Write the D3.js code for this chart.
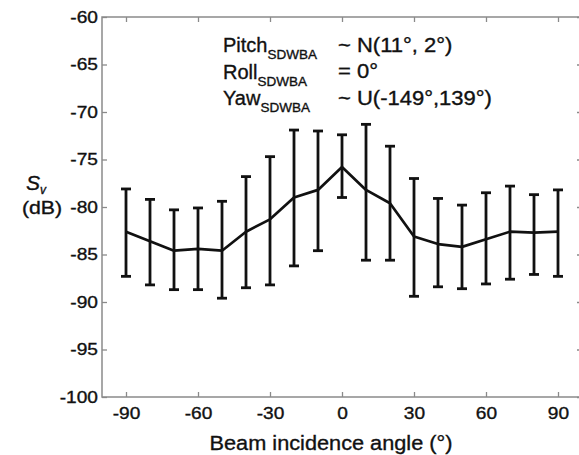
<!DOCTYPE html>
<html>
<head>
<meta charset="utf-8">
<script src="https://cdn.jsdelivr.net/npm/d3@7"></script>
<style>
  html, body { margin: 0; padding: 0; background: #fff; }
  svg { display: block; }
  text { font-family: "Liberation Sans", Arial, sans-serif; fill: #111; stroke: #111; stroke-width: 0.35px; }
</style>
</head>
<body>
<svg id="chart" width="579" height="455"></svg>
<script>
// ---- data ----
const angles = [-90, -80, -70, -60, -50, -40, -30, -20, -10, 0, 10, 20, 30, 40, 50, 60, 70, 80, 90];
const meanSv = [-82.6, -83.6, -84.6, -84.4, -84.6, -82.6, -81.3, -79.0, -78.2, -75.8, -78.2, -79.6, -83.1, -83.9, -84.2, -83.4, -82.6, -82.7, -82.6];
const upperSv = [-78.1, -79.2, -80.3, -80.1, -79.4, -76.8, -74.7, -71.9, -72.0, -72.4, -71.3, -73.6, -77.0, -79.1, -79.8, -78.5, -77.8, -78.7, -78.2];
const lowerSv = [-87.3, -88.2, -88.7, -88.7, -89.6, -88.5, -88.2, -86.2, -84.6, -79.0, -85.6, -85.6, -89.4, -88.4, -88.6, -88.1, -87.6, -87.1, -87.3];
const xTicks = [-90, -60, -30, 0, 30, 60, 90];
const yTicks = [-60, -65, -70, -75, -80, -85, -90, -95, -100];
const annotations = [
  { name: "Pitch", sub: "SDWBA", value: "~ N(11°, 2°)" },
  { name: "Roll", sub: "SDWBA", value: "= 0°" },
  { name: "Yaw", sub: "SDWBA", value: "~ U(-149°,139°)" }
];

// ---- helpers ----
function stretch(sel, k) {
  sel.each(function () {
    const t = d3.select(this);
    const x0 = +t.attr("x") || 0;
    t.attr("transform", `translate(${x0},0) scale(${k},1) translate(${-x0},0)`);
  });
}

// ---- layout ----
const svg = d3.select("#chart");
const L = 102, R = 582, T = 17, B = 397;
const x = d3.scaleLinear().domain([-100, 100]).range([L, R]);
const y = d3.scaleLinear().domain([-100, -60]).range([B, T]);
const axisColor = "#8a8a8a";
const fmt = d => String(d);

// box
svg.append("rect").attr("x", L).attr("y", T).attr("width", R - L).attr("height", B - T)
  .attr("fill", "none").attr("stroke", axisColor).attr("stroke-width", 1.5);

// axes with inward ticks
const gx = svg.append("g").attr("transform", `translate(0,${B})`)
  .call(d3.axisBottom(x).tickValues(xTicks).tickSizeInner(-5).tickSizeOuter(0).tickPadding(10).tickFormat(fmt));
const gxt = svg.append("g").attr("transform", `translate(0,${T})`)
  .call(d3.axisTop(x).tickValues(xTicks).tickSizeInner(-5).tickSizeOuter(0).tickFormat(""));
const gy = svg.append("g").attr("transform", `translate(${L},0)`)
  .call(d3.axisLeft(y).tickValues(yTicks).tickSizeInner(-5).tickSizeOuter(0).tickPadding(4).tickFormat(fmt));
const gyr = svg.append("g").attr("transform", `translate(${R},0)`)
  .call(d3.axisRight(y).tickValues(yTicks).tickSizeInner(-5).tickSizeOuter(0).tickFormat(""));

[gx, gxt, gy, gyr].forEach(g => {
  g.select(".domain").remove();
  g.selectAll(".tick line").attr("stroke", axisColor).attr("stroke-width", 1.3);
  g.selectAll("text").attr("font-size", 16.5).attr("fill", "#111")
    .attr("font-family", "Liberation Sans, Arial, sans-serif");
});
gx.selectAll(".tick text").attr("dy", "0.71em");
stretch(gx.selectAll(".tick text"), 1.16);
stretch(gy.selectAll(".tick text"), 1.16);

// error bars
const capW = 5;
const bars = svg.append("g").attr("stroke", "#111").attr("stroke-width", 2.8).attr("fill", "none");
angles.forEach((a, i) => {
  const cx = x(a);
  bars.append("line").attr("x1", cx).attr("x2", cx).attr("y1", y(upperSv[i])).attr("y2", y(lowerSv[i]));
  bars.append("line").attr("x1", cx - capW).attr("x2", cx + capW).attr("y1", y(upperSv[i])).attr("y2", y(upperSv[i]));
  bars.append("line").attr("x1", cx - capW).attr("x2", cx + capW).attr("y1", y(lowerSv[i])).attr("y2", y(lowerSv[i]));
});

// mean line
const line = d3.line().x((d, i) => x(angles[i])).y(d => y(d));
svg.append("path").datum(meanSv).attr("d", line).attr("fill", "none")
  .attr("stroke", "#111").attr("stroke-width", 2.7).attr("stroke-linejoin", "round");

// annotation
const ann = svg.append("g");
annotations.forEach((a, i) => {
  const by = 52 + i * 26.5;
  const t = ann.append("text").attr("x", 223).attr("y", by).attr("font-size", 20);
  t.append("tspan").text(a.name);
  t.append("tspan").attr("font-size", 13.5).attr("dy", 7).text(a.sub);
  const v = ann.append("text").attr("x", 338).attr("y", by).attr("font-size", 20).text(a.value);
  stretch(v, 1.1);
});

// y label
const yl = svg.append("g");
const st = yl.append("text").attr("x", 26).attr("y", 190).attr("font-size", 21)
  .attr("font-family", "DejaVu Serif, serif").attr("font-style", "italic");
st.append("tspan").text("S");
st.append("tspan").attr("font-size", 12).attr("dy", 4).text("v");
const db = yl.append("text").attr("x", 42).attr("y", 214).attr("text-anchor", "middle").attr("font-size", 18.5).text("(dB)");
stretch(db, 1.15);

// x label
const xl = svg.append("text").attr("x", 331).attr("y", 450).attr("text-anchor", "middle").attr("font-size", 20.5)
  .text("Beam incidence angle (°)");
stretch(xl, 1.06);
</script>
</body>
</html>
